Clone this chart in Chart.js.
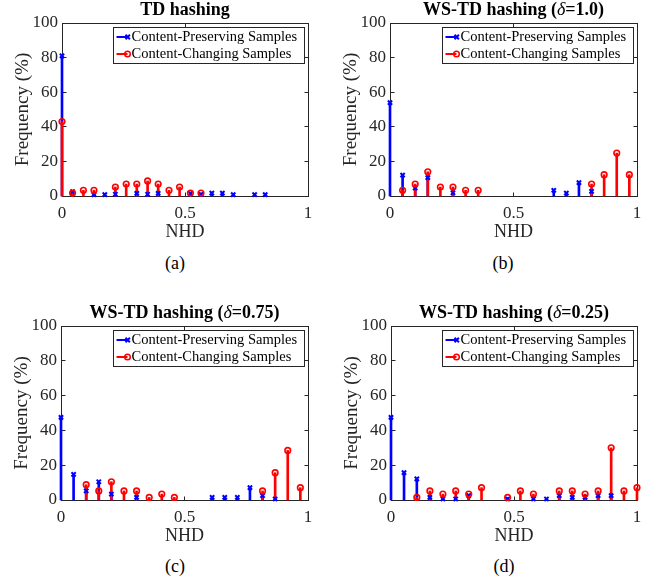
<!DOCTYPE html>
<html>
<head>
<meta charset="utf-8">
<script src="https://cdn.jsdelivr.net/npm/chart.js@4.4.1/dist/chart.umd.min.js"></script>
<style>
  body { margin: 0; background: #fff; width: 653px; height: 582px; position: relative; overflow: hidden; }
  canvas { position: absolute; }
  .cap { position: absolute; width: 60px; text-align: center; font: 18px 'Liberation Serif', serif; line-height: 20px; color: #000; }
</style>
</head>
<body>
<canvas id="pa"></canvas>
<canvas id="pb"></canvas>
<canvas id="pc"></canvas>
<canvas id="pd"></canvas>
<div class="cap" style="left:145px;top:253px">(a)</div>
<div class="cap" style="left:473px;top:253px">(b)</div>
<div class="cap" style="left:145px;top:556px">(c)</div>
<div class="cap" style="left:474px;top:556px">(d)</div>
<script>
// NHD bin positions and frequencies (%)
var nhdA = [0, 0.043, 0.087, 0.13, 0.174, 0.217, 0.261, 0.304, 0.348, 0.391, 0.435, 0.478, 0.522, 0.565, 0.609, 0.652, 0.696, 0.739, 0.783, 0.826];
var preserveA = [81, 2.5, null, 0.8, 0.8, 1.0, null, 1.5, 1.0, 1.5, null, null, 1.5, 1.0, 1.7, 1.7, 0.8, null, 0.8, 0.8];
var changeA = [43, 1.7, 3.3, 3.3, null, 5.2, 6.9, 6.9, 8.7, 6.9, 3.3, 5.2, 1.7, 1.7, null, null, null, null, null, null];

var nhdB = [0, 0.051, 0.102, 0.153, 0.204, 0.255, 0.306, 0.357, 0.408, 0.459, 0.51, 0.561, 0.612, 0.663, 0.714, 0.765, 0.816, 0.867, 0.918, 0.969];
var preserveB = [54, 12.1, 4.6, 10.6, null, 1.9, null, null, null, null, null, null, null, 3.3, 1.7, 7.7, 2.7, null, null, null];
var changeB = [null, 3.3, 6.9, 14, 5.2, 5.2, 3.3, 3.3, null, null, null, null, null, null, null, null, 6.9, 12.3, 24.8, 12.3];

var nhdC = [0, 0.051, 0.102, 0.153, 0.204, 0.255, 0.306, 0.357, 0.408, 0.459, 0.51, 0.561, 0.612, 0.663, 0.714, 0.765, 0.816, 0.867, 0.918, 0.969];
var preserveC = [47.5, 14.7, 5.2, 10.5, 3.4, null, 1.5, null, null, null, null, null, 1.5, 1.5, 1.5, 7.1, 2.5, 0.6, null, null];
var changeC = [null, null, 8.8, 5.2, 10.5, 5.2, 5.2, 1.5, 3.4, 1.5, null, null, null, null, null, null, 5.2, 15.7, 28.5, 7.1];

var nhdD = [0, 0.053, 0.105, 0.158, 0.211, 0.263, 0.316, 0.368, 0.421, 0.474, 0.526, 0.579, 0.632, 0.684, 0.737, 0.789, 0.842, 0.895, 0.947, 1];
var preserveD = [47.5, 15.7, 12.1, 1.5, 0.6, 0.6, 2.5, null, null, 0.6, null, 0.6, 0.6, 2.5, 1.5, 1.5, 2.5, 2.5, null, null];
var changeD = [null, null, 1.5, 5.2, 3.4, 5.2, 3.4, 7.1, null, 1.5, 5.2, 3.4, null, 5.2, 5.2, 3.4, 5.2, 30, 5.2, 7.1];

var xTicks = [0, 0.5, 1];
var yTicks = [0, 20, 40, 60, 80, 100];
var seriesNames = ["Content-Preserving Samples", "Content-Changing Samples"];
var titles = ["TD hashing", "WS-TD hashing (δ=1.0)", "WS-TD hashing (δ=0.75)", "WS-TD hashing (δ=0.25)"];

var FONT = "'Liberation Serif', 'Times New Roman', serif";
var AXIS = "#262626";
var BLUE = "#0000ff";
var RED = "#ff0000";

function pts(xs, ys) {
    var out = [];
    for (var i = 0; i < xs.length; i++) {
        if (ys[i] !== null) out.push({ x: xs[i], y: ys[i] });
    }
    return out;
}

// axes box with inward ticks (MATLAB style), drawn under the stems
var boxPlugin = {
    id: "boxPlugin",
    beforeDatasetsDraw: function(chart) {
        var ctx = chart.ctx, a = chart.chartArea;
        var l = Math.floor(a.left) + 0.5, r = Math.floor(a.right) + 0.5;
        var t = Math.floor(a.top) + 0.5, b = Math.floor(a.bottom) + 0.5;
        ctx.save();
        ctx.strokeStyle = AXIS;
        ctx.lineWidth = 1;
        ctx.strokeRect(l, t, r - l, b - t);
        ctx.beginPath();
        yTicks.forEach(function(v) {
            var y = Math.floor(chart.scales.y.getPixelForValue(v)) + 0.5;
            ctx.moveTo(l, y); ctx.lineTo(l + 4, y);
            ctx.moveTo(r, y); ctx.lineTo(r - 4, y);
        });
        xTicks.forEach(function(v) {
            var x = Math.floor(chart.scales.x.getPixelForValue(v)) + 0.5;
            ctx.moveTo(x, b); ctx.lineTo(x, b - 4);
            ctx.moveTo(x, t); ctx.lineTo(x, t + 4);
        });
        ctx.stroke();
        ctx.restore();
    },
    afterDatasetsDraw: function(chart, args, opts) {
        var ctx = chart.ctx, a = chart.chartArea;
        // title, delta in italic
        var parts = opts.title.split("δ");
        var segs = [{ t: parts[0], f: "bold 18px " + FONT }];
        if (parts.length > 1) {
            segs.push({ t: "δ", f: "italic 18px " + FONT });
            segs.push({ t: parts[1], f: "bold 18px " + FONT });
        }
        ctx.save();
        var total = 0;
        segs.forEach(function(s) { ctx.font = s.f; s.w = ctx.measureText(s.t).width; total += s.w; });
        var x = (a.left + a.right) / 2 - total / 2;
        ctx.fillStyle = "#000";
        ctx.textBaseline = "middle";
        ctx.textAlign = "left";
        segs.forEach(function(s) { ctx.font = s.f; ctx.fillText(s.t, x, a.top - 12.5); x += s.w; });

        // legend box in the upper right corner
        ctx.font = "14.5px " + FONT;
        var tw = Math.max(ctx.measureText(seriesNames[0]).width, ctx.measureText(seriesNames[1]).width);
        var w = Math.round(18 + tw + 7), h = 36;
        var bx = Math.floor(a.right) - 4 - w + 0.5, by = Math.floor(a.top) + 4 + 0.5;
        ctx.fillStyle = "#fff";
        ctx.fillRect(bx, by, w, h);
        ctx.strokeStyle = AXIS;
        ctx.lineWidth = 1;
        ctx.strokeRect(bx, by, w, h);
        var rows = [{ c: BLUE, y: by + 9.5, m: "x" }, { c: RED, y: by + 26.5, m: "o" }];
        rows.forEach(function(row, i) {
            ctx.strokeStyle = row.c;
            ctx.lineWidth = 2;
            ctx.beginPath();
            ctx.moveTo(bx + 3, row.y); ctx.lineTo(bx + 14, row.y);
            ctx.stroke();
            ctx.beginPath();
            if (row.m === "x") {
                ctx.moveTo(bx + 12, row.y - 2.2); ctx.lineTo(bx + 16.4, row.y + 2.2);
                ctx.moveTo(bx + 12, row.y + 2.2); ctx.lineTo(bx + 16.4, row.y - 2.2);
            } else {
                ctx.lineWidth = 1.5;
                ctx.arc(bx + 14, row.y, 2.8, 0, Math.PI * 2);
            }
            ctx.stroke();
            ctx.fillStyle = "#000";
            ctx.font = "14.5px " + FONT;
            ctx.fillText(seriesNames[i], bx + 18, row.y + 0.5);
        });
        ctx.restore();
    }
};

function makePanel(id, geo, title, xs, blue, red) {
    var cv = document.getElementById(id);
    var cw = geo.right - geo.left + 62 + 14;
    var ch = geo.bottom - geo.top + 23 + 45;
    cv.width = cw; cv.height = ch;
    cv.style.left = (geo.left - 62) + "px";
    cv.style.top = (geo.top - 23) + "px";
    cv.style.width = cw + "px"; cv.style.height = ch + "px";

    var bluePts = pts(xs, blue), redPts = pts(xs, red);
    return new Chart(cv, {
        type: "bar",
        data: {
            datasets: [{
                label: seriesNames[0], data: bluePts, backgroundColor: BLUE,
                barThickness: 2, grouped: false, order: 4, clip: false
            }, {
                label: seriesNames[1], data: redPts, backgroundColor: RED,
                barThickness: 2, grouped: false, order: 3, clip: false
            }, {
                type: "scatter", label: seriesNames[0], data: bluePts,
                pointStyle: "crossRot", pointRadius: 3, borderColor: BLUE, borderWidth: 2,
                backgroundColor: BLUE, order: 2, clip: false
            }, {
                type: "scatter", label: seriesNames[1], data: redPts,
                pointStyle: "circle", pointRadius: 2.8, borderColor: RED, borderWidth: 1.6,
                backgroundColor: "rgba(0,0,0,0)", order: 1, clip: false
            }]
        },
        options: {
            responsive: false,
            animation: false,
            events: [],
            devicePixelRatio: 1,
            layout: { padding: { left: 0, top: 23, right: 14, bottom: 0 } },
            plugins: {
                legend: { display: false },
                tooltip: { enabled: false },
                boxPlugin: { title: title }
            },
            scales: {
                x: {
                    type: "linear", min: 0, max: 1, offset: false,
                    afterFit: function(s) { s.height = 45; s.paddingLeft = 0; s.paddingRight = 0; },
                    afterBuildTicks: function(s) { s.ticks = xTicks.map(function(v) { return { value: v }; }); },
                    grid: { display: false, drawTicks: false },
                    border: { display: false },
                    ticks: { color: AXIS, font: { family: FONT, size: 17 }, padding: 7, maxRotation: 0,
                             callback: function(v) { return String(v); } },
                    title: { display: true, text: "NHD", color: AXIS, font: { family: FONT, size: 18, lineHeight: 1 }, padding: { top: 1, bottom: 0 } }
                },
                y: {
                    min: 0, max: 100,
                    afterFit: function(s) { s.width = 62; s.paddingTop = 0; s.paddingBottom = 0; },
                    afterBuildTicks: function(s) { s.ticks = yTicks.map(function(v) { return { value: v }; }); },
                    grid: { display: false, drawTicks: false },
                    border: { display: false },
                    ticks: { color: AXIS, font: { family: FONT, size: 17 }, padding: 4,
                             callback: function(v) { return String(v); } },
                    title: { display: true, text: "Frequency (%)", color: AXIS, font: { family: FONT, size: 19, lineHeight: 1 }, padding: { top: 14, bottom: 0 } }
                }
            }
        },
        plugins: [boxPlugin]
    });
}

makePanel("pa", { left: 62, right: 308, top: 23, bottom: 196 }, titles[0], nhdA, preserveA, changeA);
makePanel("pb", { left: 390, right: 637, top: 23, bottom: 196 }, titles[1], nhdB, preserveB, changeB);
makePanel("pc", { left: 61, right: 308, top: 326, bottom: 500 }, titles[2], nhdC, preserveC, changeC);
makePanel("pd", { left: 391, right: 637, top: 326, bottom: 500 }, titles[3], nhdD, preserveD, changeD);
</script>
</body>
</html>
